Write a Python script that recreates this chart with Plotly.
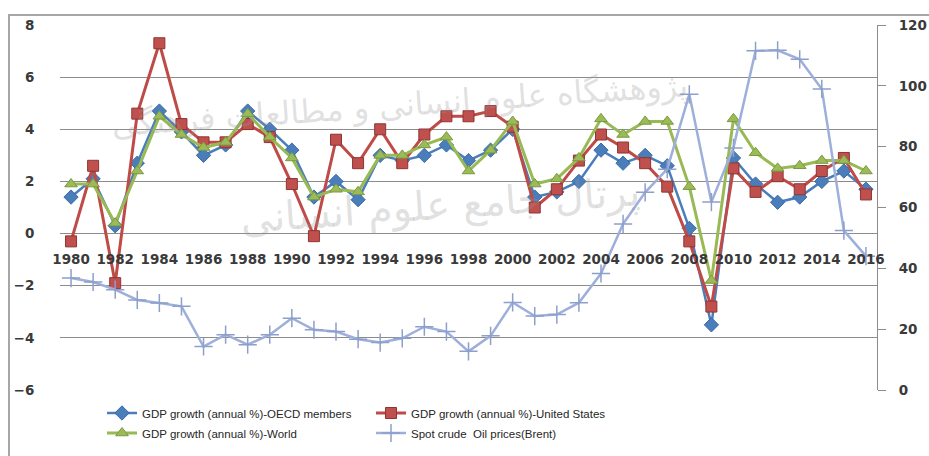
"""
GDP growth vs Brent crude oil price, 1980-2016 (dual axis line chart).
"""

import plotly.graph_objects as go

years = list(range(1980, 2017))

gdp_oecd = [1.4, 2.1, 0.3, 2.7, 4.7, 3.9, 3.0, 3.4, 4.7, 4.0, 3.2, 1.4,
            2.0, 1.3, 3.0, 2.8, 3.0, 3.4, 2.8, 3.2, 4.0, 1.4, 1.6, 2.0,
            3.2, 2.7, 3.0, 2.6, 0.2, -3.5, 2.9, 1.9, 1.2, 1.4, 2.0, 2.4, 1.7]

gdp_us = [-0.3, 2.6, -1.9, 4.6, 7.3, 4.2, 3.5, 3.5, 4.2, 3.7, 1.9, -0.1,
          3.6, 2.7, 4.0, 2.7, 3.8, 4.5, 4.5, 4.7, 4.1, 1.0, 1.7, 2.8,
          3.8, 3.3, 2.7, 1.8, -0.3, -2.8, 2.5, 1.6, 2.2, 1.7, 2.4, 2.9, 1.5]

gdp_world = [1.9, 1.9, 0.4, 2.4, 4.5, 3.8, 3.3, 3.5, 4.6, 3.7, 2.9, 1.4,
             1.7, 1.6, 3.0, 3.0, 3.4, 3.7, 2.4, 3.2, 4.3, 1.9, 2.1, 2.9,
             4.4, 3.8, 4.3, 4.3, 1.8, -1.8, 4.4, 3.1, 2.5, 2.6, 2.8, 2.8, 2.4]

oil_brent = [36.8, 35.5, 33.0, 29.6, 28.6, 27.5, 14.3, 18.2, 14.9, 18.2,
             23.6, 19.8, 19.2, 16.7, 15.6, 17.0, 20.8, 19.2, 12.7, 17.8,
             28.8, 24.3, 24.8, 28.7, 38.3, 54.6, 65.0, 72.6, 97.2, 61.8,
             79.6, 111.5, 111.7, 108.7, 99.0, 52.4, 44.0]

names = ['GDP growth (annual %)-OECD members',
         'GDP growth (annual %)-United States',
         'GDP growth (annual %)-World',
         'Spot crude  Oil prices(Brent)']

# faint watermark lines printed over the chart
watermark = ['پژوهشگاه علوم انسانی و مطالعات فرهنگی', 'پرتال جامع علوم انسانی']

fig = go.Figure()

fig.add_trace(go.Scatter(
    x=years, y=gdp_oecd, name=names[0], mode='lines+markers', legend='legend',
    line=dict(color='#4A7EBB', width=2.5),
    marker=dict(symbol='diamond', size=11, color='#4A7EBB',
                line=dict(color='#3A6AA5', width=1))
))
fig.add_trace(go.Scatter(
    x=years, y=gdp_us, name=names[1], mode='lines+markers', legend='legend',
    line=dict(color='#BE4B48', width=3),
    marker=dict(symbol='square', size=11, color='#C0504D',
                line=dict(color='#8E3532', width=1))
))
fig.add_trace(go.Scatter(
    x=years, y=gdp_world, name=names[2], mode='lines+markers', legend='legend2',
    line=dict(color='#98B954', width=3),
    marker=dict(symbol='triangle-up', size=11, color='#9BBB59',
                line=dict(color='#7A9A3E', width=1))
))
fig.add_trace(go.Scatter(
    x=years, y=oil_brent, name=names[3], mode='lines+markers', legend='legend2',
    yaxis='y2', line=dict(color='#9DAFDA', width=2.5),
    marker=dict(symbol='cross-thin', size=13, color='#8D9FCB',
                line=dict(color='#8D9FCB', width=1.5))
))

tick_font = dict(family='DejaVu Sans', size=13.5, color='#3A3A3A')
legend_font = dict(family='Liberation Sans', size=11.5, color='#262626')
wm_font = dict(family='DejaVu Sans', color='rgba(150,150,150,0.3)')

fig.update_layout(
    width=929, height=456,
    margin=dict(l=60, r=52, t=25, b=66, autoexpand=False),
    paper_bgcolor='white', plot_bgcolor='white',
    font=dict(family='DejaVu Sans'),
    xaxis=dict(
        range=[1979.5, 2016.5], tick0=1980, dtick=2,
        anchor='free', position=(390 - 233) / 365,
        showgrid=False, zeroline=False, showline=False,
        ticks='outside', ticklen=14, tickcolor='rgba(0,0,0,0)',
        tickfont=dict(tick_font, weight='bold')
    ),
    yaxis=dict(
        range=[-6, 8], dtick=2, showgrid=True, gridcolor='#8C8C8C', gridwidth=1,
        zeroline=False, showline=False,
        ticks='outside', ticklen=22, tickcolor='rgba(0,0,0,0)',
        tickfont=dict(tick_font, weight='bold')
    ),
    yaxis2=dict(
        range=[0, 120], dtick=20, overlaying='y', side='right',
        showgrid=False, zeroline=False,
        showline=True, linecolor='#8C8C8C', linewidth=1,
        ticks='outside', ticklen=8, tickcolor='#8C8C8C',
        ticklabelstandoff=10,
        tickfont=dict(tick_font, weight='bold')
    ),
    legend=dict(
        orientation='h', x=42 / 817, xanchor='left',
        y=(390 - 413) / 365, yanchor='middle',
        entrywidth=224, font=legend_font, bgcolor='rgba(0,0,0,0)'
    ),
    legend2=dict(
        orientation='h', x=42 / 817, xanchor='left',
        y=(390 - 433) / 365, yanchor='middle',
        entrywidth=224, font=legend_font, bgcolor='rgba(0,0,0,0)'
    ),
    shapes=[dict(
        type='rect', xref='paper', yref='paper', layer='below',
        x0=(9 - 60) / 817, x1=1.2, y0=-0.3, y1=(390 - 15) / 365,
        line=dict(color='#A6A6A6', width=2), fillcolor='rgba(0,0,0,0)'
    )],
    annotations=[
        dict(text=watermark[0], xref='paper', yref='paper',
             x=(400 - 60) / 817, y=(390 - 105) / 365,
             xanchor='center', yanchor='middle', showarrow=False,
             textangle=-4, font=dict(wm_font, size=32)),
        dict(text=watermark[1], xref='paper', yref='paper',
             x=(440 - 60) / 817, y=(390 - 205) / 365,
             xanchor='center', yanchor='middle', showarrow=False,
             textangle=-4, font=dict(wm_font, size=40)),
    ],
    showlegend=True
)

# drop the page's default body margin so the figure sits at (0, 0)
fig.write_html('out.html', config={'displayModeBar': False},
               post_script="document.body.style.margin = '0';")
